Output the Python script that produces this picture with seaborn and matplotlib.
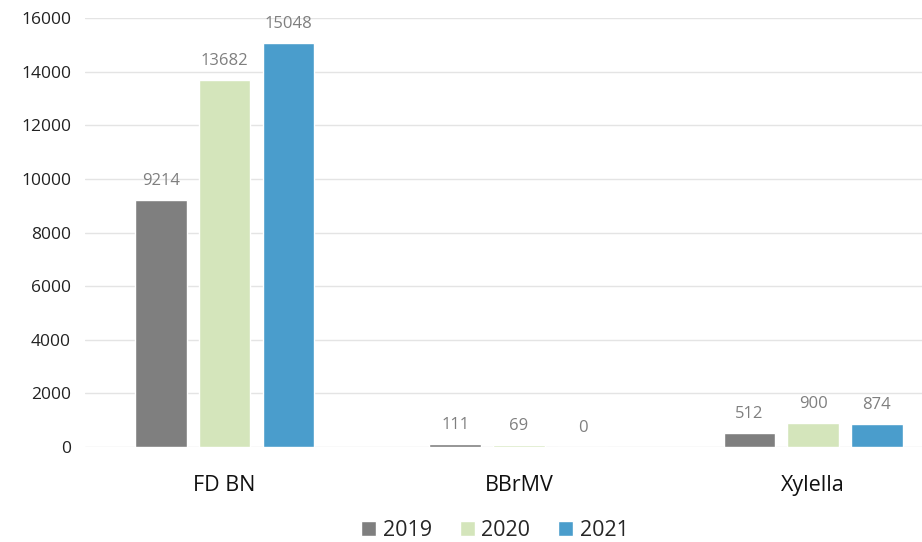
import matplotlib
matplotlib.use("Agg")
import matplotlib.pyplot as plt
import seaborn as sns
import pandas as pd

categories = ["FD BN", "BBrMV", "Xylella"]
years = ["2019", "2020", "2021"]
values_2019 = [9214, 111, 512]
values_2020 = [13682, 69, 900]
values_2021 = [15048, 0, 874]
colors = ["#7f7f7f", "#d4e5bb", "#4a9dcc"]

rows = []
for yr, vals in zip(years, [values_2019, values_2020, values_2021]):
    for c, v in zip(categories, vals):
        rows.append({"cat": c, "year": yr, "value": v})
df = pd.DataFrame(rows)

sns.set_theme(style="white")
plt.rcParams["font.family"] = ["Open Sans", "DejaVu Sans"]

fig = plt.figure(figsize=(9.22, 5.42), dpi=100)
ax = fig.add_axes([0.092, 0.175, 0.908, 0.792])

sns.barplot(data=df, x="cat", y="value", hue="year", order=categories,
            hue_order=years, palette=colors, width=0.65, gap=0.19,
            saturation=1, ax=ax, legend=True)

for cont in ax.containers:
    ax.bar_label(cont, fmt="%d", padding=8, color="#7f7f7f", fontsize=12)

ax.set_ylim(0, 16000)
ax.set_xlim(-0.475, 2.37)
ax.set_yticks(range(0, 16001, 2000))
ax.yaxis.grid(True, color="#e4e4e4", linewidth=1)
ax.set_axisbelow(True)
for s in ax.spines.values():
    s.set_visible(False)
ax.set_xlabel("")
ax.set_ylabel("")
ax.tick_params(axis="y", labelsize=12.5, colors="#222222", pad=10, length=0)
ax.tick_params(axis="x", labelsize=15.5, colors="#111111", pad=20, length=0)

ax.legend(loc="upper center", bbox_to_anchor=(0.49, -0.125), ncol=3,
          frameon=False, fontsize=15.5, handlelength=0.7, handleheight=0.7,
          handletextpad=0.3, columnspacing=1.3)

fig.savefig("out.png", dpi=100)
